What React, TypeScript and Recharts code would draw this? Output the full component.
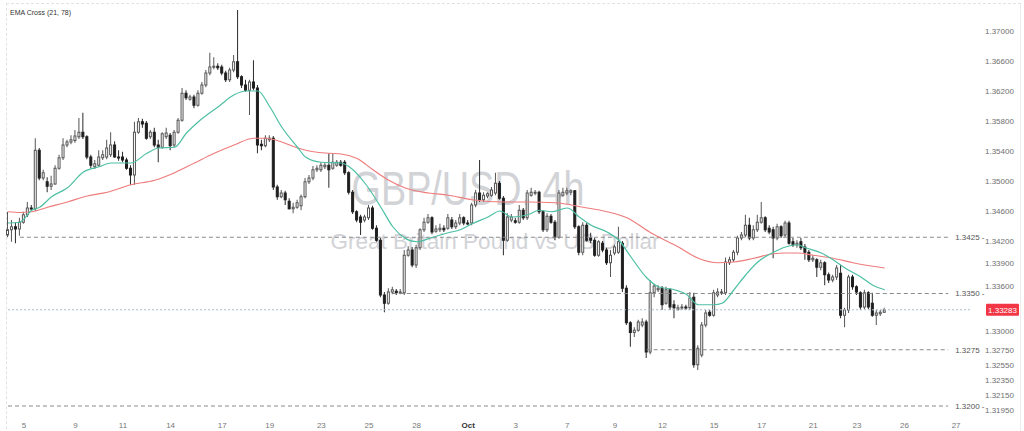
import { Bar, ComposedChart, Line, ReferenceLine, XAxis, YAxis } from "recharts";

const FONT = '"Liberation Sans", Arial, sans-serif';

// GBP/USD 4h candles, Sep 4 – Oct 24
const opens = [
  1.3428, 1.3435, 1.3439, 1.3436, 1.3445, 1.3455, 1.3464, 1.3463, 1.3541, 1.3504,
  1.3499, 1.3493, 1.3496, 1.3517, 1.3531, 1.3548, 1.3552, 1.3554, 1.3559, 1.3565,
  1.3559, 1.3532, 1.3519, 1.3521, 1.3531, 1.3532, 1.3535, 1.3548, 1.3532, 1.3532,
  1.3528, 1.3517, 1.3508, 1.3565, 1.3579, 1.3577, 1.3559, 1.3565, 1.3548, 1.3545,
  1.3559, 1.3561, 1.3548, 1.3565, 1.3581, 1.3617, 1.3609, 1.3612, 1.3601, 1.3617,
  1.3628, 1.3644, 1.3652, 1.3653, 1.3652, 1.3644, 1.3635, 1.3648, 1.3659, 1.3639,
  1.3628, 1.3621, 1.3632, 1.3624, 1.3549, 1.3547, 1.3555, 1.3557, 1.3492, 1.3479,
  1.3484, 1.3473, 1.3463, 1.3465, 1.3467, 1.3479, 1.3499, 1.3504, 1.3515, 1.3515,
  1.3519, 1.3521, 1.3517, 1.3521, 1.3525, 1.3525, 1.3511, 1.3485, 1.3459, 1.3452,
  1.3448, 1.3451, 1.3464, 1.3437, 1.3421, 1.3348, 1.3337, 1.3352, 1.3353, 1.3351,
  1.3351, 1.3401, 1.3408, 1.3388, 1.3411, 1.3435, 1.3445, 1.3451, 1.3433, 1.3435,
  1.3437, 1.3437, 1.3448, 1.3439, 1.3444, 1.3451, 1.3444, 1.3444, 1.3468, 1.3484,
  1.3475, 1.348, 1.3481, 1.3484, 1.3497, 1.3477, 1.3421, 1.3448, 1.3447, 1.3445,
  1.3461, 1.3451, 1.3481, 1.3484, 1.3485, 1.3459, 1.3435, 1.3453, 1.3445, 1.3425,
  1.3481, 1.3484, 1.3485, 1.3487, 1.3439, 1.3405, 1.3441, 1.3424, 1.3421, 1.3401,
  1.3417, 1.3408, 1.3391, 1.3404, 1.3405, 1.3417, 1.3357, 1.3311, 1.3298, 1.3301,
  1.3308, 1.3312, 1.3272, 1.3351, 1.3355, 1.3357, 1.3337, 1.3355, 1.3335, 1.3329,
  1.3331, 1.3332, 1.3331, 1.3345, 1.3255, 1.3268, 1.3308, 1.3325, 1.3321, 1.3348,
  1.3351, 1.3351, 1.3391, 1.3395, 1.3405, 1.3424, 1.3428, 1.3441, 1.3424, 1.3435,
  1.3445, 1.3451, 1.3437, 1.3435, 1.3424, 1.3439, 1.3428, 1.3444, 1.3419, 1.3415,
  1.3419, 1.3412, 1.3405, 1.3395, 1.3395, 1.3385, 1.3391, 1.3375, 1.3368, 1.3372,
  1.3377, 1.3321, 1.3328, 1.3372, 1.3359, 1.3351, 1.3332, 1.3351, 1.3337, 1.3321,
  1.3323, 1.3325,
];

const highs = [
  1.3459, 1.3448, 1.3445, 1.3451, 1.3459, 1.3472, 1.3468, 1.3557, 1.3544, 1.3515,
  1.3505, 1.3507, 1.3521, 1.3535, 1.3557, 1.3555, 1.3561, 1.3568, 1.3584, 1.3591,
  1.3561, 1.3535, 1.3528, 1.3541, 1.3541, 1.3555, 1.3565, 1.3553, 1.3541, 1.3539,
  1.3531, 1.3521, 1.3579, 1.3584, 1.3583, 1.358, 1.3568, 1.3571, 1.3555, 1.3565,
  1.3571, 1.3564, 1.3568, 1.3584, 1.3624, 1.3621, 1.3615, 1.3615, 1.3621, 1.3632,
  1.3648, 1.3671, 1.3665, 1.3657, 1.3655, 1.3647, 1.3651, 1.3668, 1.3728, 1.3641,
  1.3635, 1.3635, 1.3661, 1.3628, 1.3555, 1.3561, 1.3561, 1.356, 1.3495, 1.3488,
  1.3487, 1.3477, 1.3471, 1.3475, 1.3482, 1.3504, 1.3508, 1.352, 1.3521, 1.3525,
  1.3525, 1.3537, 1.3537, 1.3528, 1.3528, 1.3528, 1.3513, 1.3488, 1.3461, 1.3455,
  1.3455, 1.3468, 1.3467, 1.3441, 1.3424, 1.3352, 1.3357, 1.3359, 1.3356, 1.3356,
  1.3408, 1.3413, 1.3412, 1.3415, 1.3437, 1.3451, 1.3456, 1.3453, 1.3441, 1.3443,
  1.3441, 1.3456, 1.3452, 1.3448, 1.3456, 1.3453, 1.3448, 1.3471, 1.3488, 1.3528,
  1.3485, 1.3485, 1.3492, 1.3511, 1.35, 1.348, 1.3457, 1.3456, 1.3451, 1.3468,
  1.3464, 1.3488, 1.3491, 1.3488, 1.3487, 1.3461, 1.3457, 1.3456, 1.3448, 1.3488,
  1.3491, 1.3491, 1.3489, 1.3488, 1.3441, 1.3445, 1.3444, 1.3431, 1.3424, 1.3421,
  1.342, 1.3411, 1.3408, 1.3415, 1.3439, 1.342, 1.3361, 1.3313, 1.3305, 1.3315,
  1.3317, 1.3315, 1.3368, 1.3363, 1.3361, 1.336, 1.3359, 1.3357, 1.3341, 1.3335,
  1.3336, 1.3335, 1.3352, 1.3351, 1.3281, 1.3312, 1.3328, 1.3328, 1.3355, 1.3357,
  1.3356, 1.3398, 1.3399, 1.3408, 1.3427, 1.3432, 1.3455, 1.3451, 1.3441, 1.3455,
  1.3472, 1.3453, 1.3441, 1.3439, 1.3443, 1.3441, 1.3447, 1.3447, 1.3424, 1.3421,
  1.3424, 1.3416, 1.3408, 1.3401, 1.3397, 1.3395, 1.3393, 1.3378, 1.3375, 1.3388,
  1.3388, 1.3331, 1.3375, 1.3375, 1.3361, 1.3353, 1.3355, 1.3353, 1.3351, 1.3328,
  1.3328, 1.3331,
];

const lows = [
  1.3425, 1.3419, 1.3417, 1.3427, 1.3443, 1.3452, 1.346, 1.346, 1.3501, 1.3501,
  1.3485, 1.3488, 1.3495, 1.3515, 1.3528, 1.3545, 1.3549, 1.3551, 1.3556, 1.3556,
  1.3529, 1.3517, 1.3516, 1.3519, 1.3528, 1.3529, 1.3532, 1.3531, 1.3527, 1.3525,
  1.3515, 1.3495, 1.3495, 1.3563, 1.3571, 1.3555, 1.3556, 1.3545, 1.3525, 1.3543,
  1.3556, 1.3541, 1.3545, 1.3563, 1.3579, 1.3608, 1.3607, 1.3597, 1.3599, 1.3615,
  1.3625, 1.3641, 1.3649, 1.3648, 1.3641, 1.3632, 1.3632, 1.3645, 1.3636, 1.3624,
  1.3619, 1.3588, 1.3621, 1.3537, 1.3541, 1.3545, 1.3552, 1.3488, 1.3475, 1.3477,
  1.3468, 1.3462, 1.3457, 1.3463, 1.3461, 1.3477, 1.3496, 1.3501, 1.3512, 1.3512,
  1.3516, 1.3491, 1.3515, 1.3519, 1.3519, 1.3508, 1.3482, 1.3456, 1.3445, 1.3428,
  1.3445, 1.3448, 1.3435, 1.3419, 1.3345, 1.3325, 1.3335, 1.3349, 1.3348, 1.3349,
  1.3348, 1.3399, 1.3385, 1.3384, 1.3408, 1.3432, 1.3443, 1.3429, 1.3431, 1.3432,
  1.3432, 1.3435, 1.3436, 1.3436, 1.3441, 1.3441, 1.3441, 1.3441, 1.3465, 1.3472,
  1.3472, 1.3477, 1.3479, 1.3481, 1.3475, 1.3401, 1.3419, 1.3445, 1.3443, 1.3443,
  1.3448, 1.3448, 1.3479, 1.3481, 1.3456, 1.3432, 1.3432, 1.3443, 1.3421, 1.3423,
  1.3479, 1.3481, 1.3481, 1.3436, 1.3401, 1.3401, 1.3419, 1.3417, 1.3399, 1.3399,
  1.3405, 1.3388, 1.3372, 1.3401, 1.3403, 1.3352, 1.3308, 1.3279, 1.3292, 1.3299,
  1.3305, 1.3264, 1.3269, 1.3345, 1.3352, 1.3328, 1.3335, 1.3328, 1.3317, 1.3327,
  1.3328, 1.3328, 1.3328, 1.3251, 1.3248, 1.3265, 1.3305, 1.3319, 1.3319, 1.3345,
  1.3348, 1.3348, 1.3388, 1.3392, 1.3401, 1.3421, 1.3425, 1.3421, 1.3421, 1.3432,
  1.3443, 1.3432, 1.3429, 1.3397, 1.3421, 1.3424, 1.3425, 1.3415, 1.3412, 1.3411,
  1.3408, 1.3395, 1.3392, 1.3392, 1.3372, 1.3381, 1.3361, 1.3364, 1.3365, 1.3368,
  1.3317, 1.3305, 1.3324, 1.3355, 1.3348, 1.3328, 1.3329, 1.3329, 1.3319, 1.3308,
  1.332, 1.3324,
];

const closes = [
  1.3435, 1.3439, 1.3436, 1.3445, 1.3455, 1.3464, 1.3463, 1.3541, 1.3504, 1.3511,
  1.3493, 1.3496, 1.3517, 1.3531, 1.3548, 1.3552, 1.3555, 1.356, 1.3565, 1.3559,
  1.3532, 1.3521, 1.3523, 1.3532, 1.3535, 1.3544, 1.3548, 1.3532, 1.3531, 1.3528,
  1.3517, 1.3508, 1.3565, 1.3579, 1.3576, 1.3557, 1.3565, 1.3548, 1.3545, 1.3563,
  1.3564, 1.3547, 1.3565, 1.3581, 1.3617, 1.3611, 1.3612, 1.3601, 1.3617, 1.3628,
  1.3644, 1.3652, 1.3653, 1.3651, 1.3644, 1.3635, 1.3648, 1.3659, 1.3639, 1.3628,
  1.3621, 1.3632, 1.3624, 1.3548, 1.3547, 1.3557, 1.3557, 1.3492, 1.3479, 1.3484,
  1.3475, 1.3463, 1.3465, 1.3471, 1.3479, 1.3499, 1.3504, 1.3515, 1.3517, 1.3521,
  1.3521, 1.3515, 1.3525, 1.3525, 1.3521, 1.3511, 1.3485, 1.3459, 1.3448, 1.3445,
  1.3452, 1.3464, 1.3437, 1.3421, 1.3348, 1.3337, 1.3352, 1.3355, 1.3351, 1.3352,
  1.3401, 1.3408, 1.3388, 1.3411, 1.3435, 1.3445, 1.3451, 1.3432, 1.3436, 1.3437,
  1.3435, 1.3451, 1.3439, 1.3444, 1.3451, 1.3444, 1.3443, 1.3468, 1.3484, 1.3475,
  1.3481, 1.3483, 1.3488, 1.3497, 1.3477, 1.3421, 1.3452, 1.3452, 1.3445, 1.3461,
  1.3451, 1.3484, 1.3485, 1.3485, 1.3459, 1.3435, 1.3453, 1.3445, 1.3425, 1.3484,
  1.3485, 1.3487, 1.3487, 1.3439, 1.3405, 1.3441, 1.3421, 1.3421, 1.3401, 1.3419,
  1.3408, 1.3391, 1.3401, 1.3412, 1.3419, 1.3357, 1.3311, 1.3298, 1.3301, 1.3312,
  1.3312, 1.3272, 1.3351, 1.336, 1.3357, 1.3335, 1.3355, 1.3332, 1.3331, 1.3331,
  1.3332, 1.3331, 1.3344, 1.3255, 1.3277, 1.3308, 1.3324, 1.3321, 1.3351, 1.3352,
  1.3352, 1.3392, 1.3395, 1.3405, 1.3424, 1.3428, 1.3441, 1.3424, 1.3435, 1.3445,
  1.3451, 1.3435, 1.3432, 1.3424, 1.3439, 1.3427, 1.3444, 1.3417, 1.3415, 1.3417,
  1.3411, 1.3405, 1.3395, 1.3397, 1.3385, 1.3391, 1.3375, 1.3368, 1.3372, 1.3384,
  1.3321, 1.3328, 1.3372, 1.3359, 1.3352, 1.3332, 1.3351, 1.3332, 1.3321, 1.3324,
  1.3325, 1.3328,
];

// EMA 21 / EMA 78: [candle index, value]
const emaFast: [number, number][] = [
  [0, 1.3444], [3, 1.3445], [6, 1.3461], [8, 1.3465], [11, 1.3479], [15, 1.3491],
  [19, 1.3512], [23, 1.3519], [26, 1.3524], [31, 1.3524], [35, 1.3537], [38, 1.3544],
  [42, 1.3545], [45, 1.3564], [48, 1.3579], [53, 1.3599], [57, 1.3615], [60, 1.362],
  [63, 1.362], [66, 1.3599], [69, 1.3572], [73, 1.3545], [75, 1.3532], [79, 1.3525],
  [84, 1.3524], [86, 1.3519], [90, 1.3497], [94, 1.3465], [97, 1.3439], [100, 1.3424],
  [103, 1.3419], [107, 1.3425], [111, 1.3431], [114, 1.3435], [117, 1.3443], [121, 1.3452],
  [124, 1.346], [127, 1.3452], [131, 1.3455], [134, 1.3461], [137, 1.3459], [141, 1.3464],
  [144, 1.3452], [147, 1.3441], [151, 1.3432], [154, 1.3421], [157, 1.3399], [161, 1.3371],
  [164, 1.3359], [168, 1.3355], [171, 1.3349], [174, 1.3335], [178, 1.3335], [180, 1.3337],
  [183, 1.3355], [186, 1.3375], [189, 1.3392], [193, 1.3405], [196, 1.3412], [199, 1.3415],
  [201, 1.3411], [205, 1.3404], [208, 1.3395], [211, 1.3384], [215, 1.3372], [218, 1.3361],
  [221, 1.3355],
];

const emaSlow: [number, number][] = [
  [0, 1.3459], [3, 1.3458], [6, 1.3459], [10, 1.3465], [15, 1.3472], [20, 1.348],
  [25, 1.3485], [31, 1.3495], [37, 1.3501], [42, 1.3511], [47, 1.3524], [52, 1.3537],
  [57, 1.3548], [62, 1.3557], [65, 1.3557], [69, 1.3552], [73, 1.3544], [77, 1.3539],
  [81, 1.3537], [84, 1.3536], [88, 1.353], [92, 1.3515], [96, 1.3501], [100, 1.3491],
  [106, 1.3484], [111, 1.3481], [117, 1.3475], [125, 1.3472], [131, 1.3472], [138, 1.3471],
  [145, 1.3465], [151, 1.3459], [156, 1.3451], [162, 1.3431], [169, 1.3412], [174, 1.3397],
  [179, 1.3391], [183, 1.3392], [188, 1.3397], [193, 1.3403], [196, 1.3404], [199, 1.3404],
  [203, 1.3401], [208, 1.3397], [213, 1.3391], [221, 1.3384],
];

const priceTicks = [
  1.37, 1.366, 1.362, 1.358, 1.354, 1.35, 1.346, 1.342, 1.339, 1.336,
  1.33, 1.3275, 1.3255, 1.3235, 1.3215, 1.3195,
];

const dateTicks = [4, 17, 29, 41, 54, 66, 79, 91, 103, 116, 128, 141, 153, 165, 178, 190, 203, 214, 226, 239];
const dateLabels = ["5", "9", "11", "14", "17", "19", "23", "25", "28", "Oct", "3", "7", "9", "12", "15", "17", "21", "23", "26", "27"];

const levelPrices = [1.3425, 1.335, 1.3275, 1.32];
const levelStarts = [3, 97, 161, 0];
const levelLabels = ["1.3425 -", "1.3350 -", "1.3275", "1.3200 -"];

const lastPrice = 1.33283;
const SLOTS = 243; // bars plus the empty space to the right

const rows = Array.from({ length: SLOTS }, (_, i) => {
  const has = i < closes.length;
  return {
    i,
    o: has ? opens[i] : null,
    h: has ? highs[i] : null,
    l: has ? lows[i] : null,
    c: has ? closes[i] : null,
    range: has ? [lows[i], highs[i]] : null,
    fast: null as number | null,
    slow: null as number | null,
  };
});
for (const [i, v] of emaFast) rows[i].fast = v;
for (const [i, v] of emaSlow) rows[i].slow = v;

function Candle(props: any) {
  const { x, y, width, height, payload } = props;
  if (!payload || payload.o == null) return <g />;
  const { o, h, l, c } = payload;
  const k = h > l ? height / (h - l) : 0;
  const mid = x + width / 2;
  const top = y + (h - Math.max(o, c)) * k;
  const bottom = y + (h - Math.min(o, c)) * k;
  const up = c >= o;
  return (
    <g>
      <line x1={mid} x2={mid} y1={y} y2={y + height} stroke={up ? "#555" : "#2a2a2a"} strokeWidth={1} />
      <rect
        x={x + 0.5}
        y={top}
        width={width - 1}
        height={Math.max(bottom - top, 1)}
        fill={up ? "#ffffff" : "#1f1f1f"}
        stroke={up ? "#555" : "#1f1f1f"}
        strokeWidth={1}
      />
    </g>
  );
}

function DateTick({ x, y, payload }: any) {
  const label = dateLabels[dateTicks.indexOf(payload.value)];
  const month = label === "Oct";
  return (
    <text
      x={x}
      y={y}
      dy="0.71em"
      textAnchor="middle"
      fontSize={8}
      fontFamily={FONT}
      fontWeight={month ? 700 : 400}
      fill={month ? "#333" : "#777"}
    >
      {label}
    </text>
  );
}

function PriceBadge({ viewBox }: any) {
  const left = viewBox.x + viewBox.width + 16;
  return (
    <g>
      <rect x={left} y={viewBox.y - 6} width={33} height={12} rx={1} fill="#f23645" />
      <text x={left + 16.5} y={viewBox.y} dy="0.35em" textAnchor="middle" fontSize={8} fontFamily={FONT} fill="#fff">
        {lastPrice.toFixed(5)}
      </text>
    </g>
  );
}

export default function App() {
  return (
    <div
      style={{
        position: "fixed",
        left: 0,
        top: 0,
        width: 1024,
        height: 431,
        background: "#fff",
        overflow: "hidden",
        fontFamily: FONT,
      }}
    >
      <div
        style={{
          position: "absolute",
          left: 6,
          top: 3,
          width: 1013,
          height: 440,
          borderTop: "1px dashed #e2e2e2",
          borderLeft: "1px dashed #e2e2e2",
          borderRight: "1px solid #ececec",
        }}
      />
      <div
        style={{
          position: "absolute",
          left: 468,
          top: 188,
          transform: "translate(-50%, -50%) scaleX(0.77)",
          fontSize: 49,
          lineHeight: 1,
          color: "#d2d3d7",
          whiteSpace: "nowrap",
        }}
      >
        GBP/USD, 4h
      </div>
      <div
        style={{
          position: "absolute",
          left: 495,
          top: 242,
          transform: "translate(-50%, -50%)",
          fontSize: 22.5,
          lineHeight: 1,
          color: "#d2d3d7",
          whiteSpace: "nowrap",
        }}
      >
        Great Britain Pound vs US Dollar
      </div>
      <div style={{ position: "absolute", left: 0, top: 0 }}>
        <ComposedChart width={1024} height={431} data={rows} margin={{ top: 4, right: 0, bottom: 0, left: 6 }}>
          <XAxis
            dataKey="i"
            type="category"
            ticks={dateTicks}
            interval={0}
            height={13}
            axisLine={false}
            tickLine={false}
            tickSize={2}
            tickMargin={2}
            tick={<DateTick />}
          />
          <YAxis
            orientation="right"
            type="number"
            domain={[1.3184, 1.3736]}
            allowDataOverflow
            ticks={priceTicks}
            interval={0}
            width={54}
            axisLine={false}
            tickLine={false}
            tickMargin={9}
            tickFormatter={(v: number) => v.toFixed(5)}
            tick={{ fontSize: 8, fill: "#6f6f6f", fontFamily: FONT }}
          />
          {levelPrices.map((p, n) => (
            <ReferenceLine
              key={p}
              segment={[
                { x: levelStarts[n], y: p },
                { x: 237, y: p },
              ]}
              stroke="#8a8a8a"
              strokeDasharray="4 3"
              ifOverflow="visible"
              label={{ value: levelLabels[n], position: "right", offset: 7, fontSize: 8, fill: "#555", fontFamily: FONT }}
            />
          ))}
          <ReferenceLine
            y={lastPrice}
            stroke="#a9bfcc"
            strokeDasharray="2 2"
            ifOverflow="visible"
            label={(props: any) => <PriceBadge {...props} />}
          />
          <Line
            dataKey="slow"
            type="monotone"
            stroke="#ee7c7c"
            strokeWidth={1.2}
            dot={false}
            activeDot={false}
            connectNulls
            isAnimationActive={false}
          />
          <Line
            dataKey="fast"
            type="monotone"
            stroke="#4dbfa3"
            strokeWidth={1.2}
            dot={false}
            activeDot={false}
            connectNulls
            isAnimationActive={false}
          />
          <Bar dataKey="range" barSize={3} shape={<Candle />} isAnimationActive={false} />
        </ComposedChart>
      </div>
      <div style={{ position: "absolute", left: 10, top: 9, fontSize: 7, color: "#333" }}>EMA Cross (21, 78)</div>
    </div>
  );
}
